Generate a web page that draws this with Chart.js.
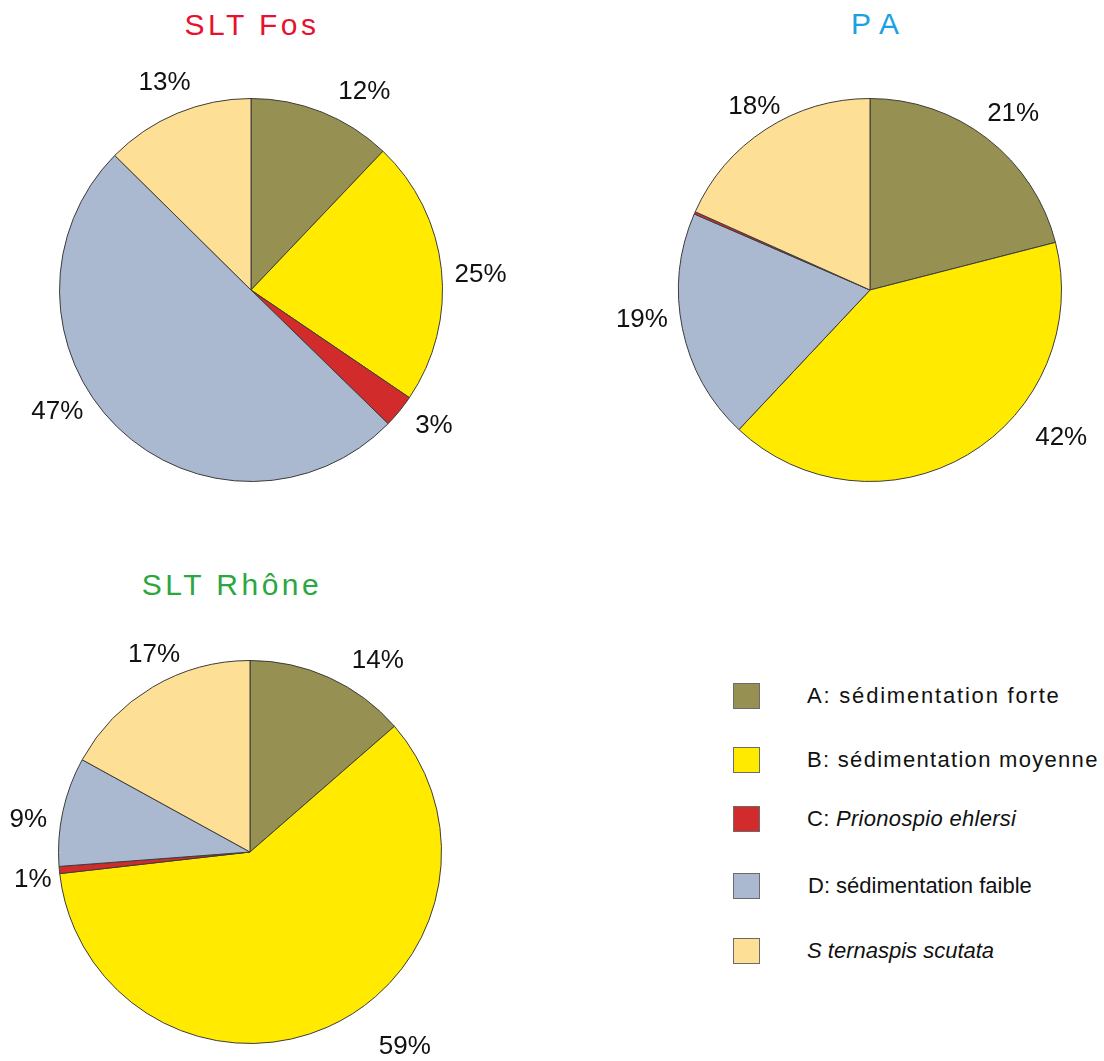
<!DOCTYPE html>
<html>
<head>
<meta charset="utf-8">
<script src="https://cdn.jsdelivr.net/npm/chart.js@4.4.1/dist/chart.umd.min.js"></script>
<style>
  body { margin: 0; background: #fff; width: 1104px; height: 1061px; overflow: hidden; position: relative;
         font-family: Arial, "Liberation Sans", sans-serif; color: #111; }
  .pie { position: absolute; width: 560px; height: 560px; }
  .title { position: absolute; font-size: 30px; line-height: 1; letter-spacing: 3.5px; white-space: nowrap;
           transform: translateX(-50%); }
  .row { position: absolute; left: 733px; height: 25px; display: flex; align-items: center; white-space: nowrap; font-size: 22px; }
  .sw { width: 25px; height: 24px; border: 1px solid #6b6b6b; margin-right: 47px; flex: none; }
</style>
</head>
<body>

<div class="title" style="left:252px; top:10px; color:#e8112d;">SLT Fos</div>
<div class="title" style="left:880px; top:9px; color:#1ba1e2; letter-spacing:10px;">PA</div>
<div class="title" style="left:232px; top:570px; color:#2ca640;">SLT Rhône</div>

<div class="pie" style="left:-29px; top:10px;"><canvas id="fosPie" width="560" height="560"></canvas></div>
<div class="pie" style="left:590px; top:10px;"><canvas id="paPie" width="560" height="560"></canvas></div>
<div class="pie" style="left:-30px; top:572px;"><canvas id="rhonePie" width="560" height="560"></canvas></div>

<div class="row" style="top:683px;"><div class="sw" style="background:#969152"></div><span style="letter-spacing:1.8px">A: sédimentation forte</span></div>
<div class="row" style="top:747px;"><div class="sw" style="background:#ffea00"></div><span style="letter-spacing:1.3px">B: sédimentation moyenne</span></div>
<div class="row" style="top:806px;"><div class="sw" style="background:#d22b2b"></div><span style="letter-spacing:0.3px">C: <i>Prionospio ehlersi</i></span></div>
<div class="row" style="top:873px;"><div class="sw" style="background:#aab8d0"></div><span style="margin-left:1px">D: sédimentation faible</span></div>
<div class="row" style="top:938px;"><div class="sw" style="background:#fddf95"></div><span><i>S ternaspis scutata</i></span></div>

<script>
// categories and values (slice sizes)
const categories = ['A: sédimentation forte', 'B: sédimentation moyenne', 'C: Prionospio ehlersi', 'D: sédimentation faible', 'Sternaspis scutata'];
const fosValues = [12.1, 22.4, 2.8, 50.1, 12.6];
const paValues = [21.0, 41.0, 0.2, 19.5, 18.3];
const rhoneValues = [13.6, 59.6, 0.6, 9.2, 17.0];

// printed percentages
const fosLabels = ['12%', '25%', '3%', '47%', '13%'];
const paLabels = ['21%', '42%', '', '19%', '18%'];
const rhoneLabels = ['14%', '59%', '1%', '9%', '17%'];

// slice order around each pie (PA has the C sliver between D and E)
const fosOrder = [0, 1, 2, 3, 4];
const paOrder = [0, 1, 3, 2, 4];
const rhoneOrder = [0, 1, 2, 3, 4];

const sliceColors = ['#969152', '#ffea00', '#d22b2b', '#aab8d0', '#fddf95'];

// draws the % text outside each slice
const pctLabels = {
  id: 'pctLabels',
  afterDatasetsDraw(chart, args, opts) {
    const ctx = chart.ctx;
    const meta = chart.getDatasetMeta(0);
    ctx.save();
    ctx.font = '26px Arial, "Liberation Sans", sans-serif';
    ctx.fillStyle = '#111';
    ctx.textAlign = 'center';
    ctx.textBaseline = 'middle';
    meta.data.forEach((arc, i) => {
      const txt = opts.texts[i];
      if (!txt) return;
      const a = (arc.startAngle + arc.endAngle) / 2 + (opts.shift[i] || 0) * Math.PI / 180;
      const r = opts.radius[i];
      ctx.fillText(txt, arc.x + r * Math.cos(a), arc.y + r * Math.sin(a));
    });
    ctx.restore();
  }
};

function makePie(id, values, texts, order, shift, radius) {
  return new Chart(document.getElementById(id), {
    type: 'pie',
    data: {
      labels: order.map(k => categories[k]),
      datasets: [{
        data: order.map(k => values[k]),
        backgroundColor: order.map(k => sliceColors[k]),
        borderColor: '#3c3c3c',
        borderWidth: 1
      }]
    },
    options: {
      responsive: false,
      animation: false,
      events: [],
      layout: { padding: 88 },
      plugins: {
        legend: { display: false },
        tooltip: { enabled: false },
        pctLabels: { texts: order.map(k => texts[k]), shift: shift, radius: radius }
      }
    },
    plugins: [pctLabels]
  });
}

makePie('fosPie', fosValues, fosLabels, fosOrder, [8, 2.4, -2.6, 13.3, 0], [228, 230, 228, 229, 224]);
makePie('paPie', paValues, paLabels, paOrder, [1.3, -21.6, 4.3, 0, 0.7], [227, 242, 230, 0, 217]);
makePie('rhonePie', rhoneValues, rhoneLabels, rhoneOrder, [9.3, -14.7, -2, -4, 4.6], [230, 249, 219, 224, 219]);
</script>
</body>
</html>
